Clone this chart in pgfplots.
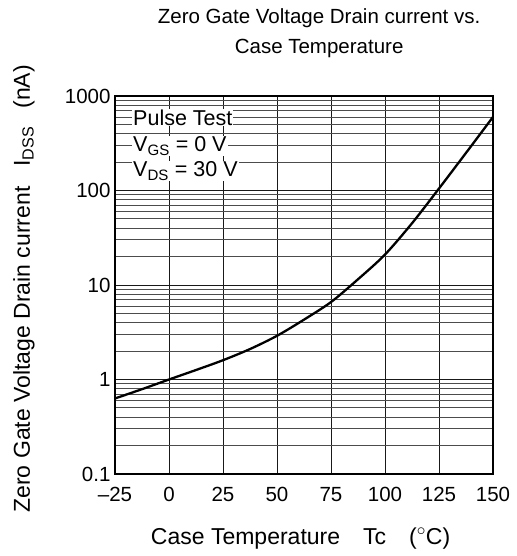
\documentclass[border=0pt]{standalone}
\usepackage{fontspec}
\setmainfont{Liberation Sans}
\usepackage{pgfplots}
\pgfplotsset{compat=1.18}

\newcommand{\titlefont}{\fontsize{20.5}{30}\selectfont}
\newcommand{\tickfont}{\fontsize{20.5}{24}\selectfont}
\newcommand{\labelfont}{\fontsize{23}{27}\selectfont}
\newcommand{\notefont}{\fontsize{21.5}{25}\selectfont}

\begin{document}
\begin{tikzpicture}
\path[use as bounding box] (-115pt,-82pt) rectangle (401pt,474pt);
\begin{axis}[
    at={(0pt,0pt)}, anchor=south west,
    scale only axis,
    width=378pt, height=378pt,
    ymode=log,
    xmin=-25, xmax=150,
    ymin=0.1, ymax=1000,
    xtick={-25,0,25,50,75,100,125,150},
    xticklabels={\textendash25,0,25,50,75,100,125,150},
    ytick={0.1,1,10,100,1000},
    yticklabels={0.1,1,10,100,1000},
    major tick length=0pt, minor tick length=0pt,
    grid=both,
    major grid style={black!90, line width=0.9pt},
    minor grid style={black!70, line width=0.9pt},
    axis line style={black, line width=1.8pt},
    tick label style={font=\tickfont},
    xticklabel style={yshift=-10pt},
    yticklabel style={xshift=-1pt},
    title style={font=\titlefont, align=center, at={(axis description cs:0.54,1.150)}, anchor=center},
    title={Zero Gate Voltage Drain current vs.\\Case Temperature},
    xlabel={Case Temperature\hspace{23pt}Tc\hspace{23pt}($^\circ$C)},
    xlabel style={font=\labelfont, at={(axis description cs:0.491,-0.172)}, anchor=center},
    ylabel={Zero Gate Voltage Drain current\hspace{20pt}I\textsubscript{DSS}\hspace{18pt}(nA)},
    ylabel style={font=\labelfont, at={(axis description cs:-0.241,0.49)}, anchor=center},
]
% IDSS vs Tc
\addplot[black, line width=2.3pt, smooth] coordinates {
    (-25, 0.63)
    (-12.5, 0.79)
    (0, 1.0)
    (12.5, 1.26)
    (25, 1.6)
    (37.5, 2.1)
    (50, 2.9)
    (62.5, 4.3)
    (75, 6.6)
    (87.5, 11.5)
    (100, 21)
    (112.5, 45)
    (125, 105)
    (137.5, 250)
    (150, 600)
};
\node[fill=white, inner sep=1pt, anchor=base west, font=\notefont] at (axis description cs:0.045,0.923) {Pulse Test};
\node[fill=white, inner sep=1pt, anchor=base west, font=\notefont] at (axis description cs:0.045,0.852) {V\textsubscript{GS} = 0 V};
\node[fill=white, inner sep=1pt, anchor=base west, font=\notefont] at (axis description cs:0.045,0.786) {V\textsubscript{DS} = 30 V};
\end{axis}
\end{tikzpicture}
\end{document}
